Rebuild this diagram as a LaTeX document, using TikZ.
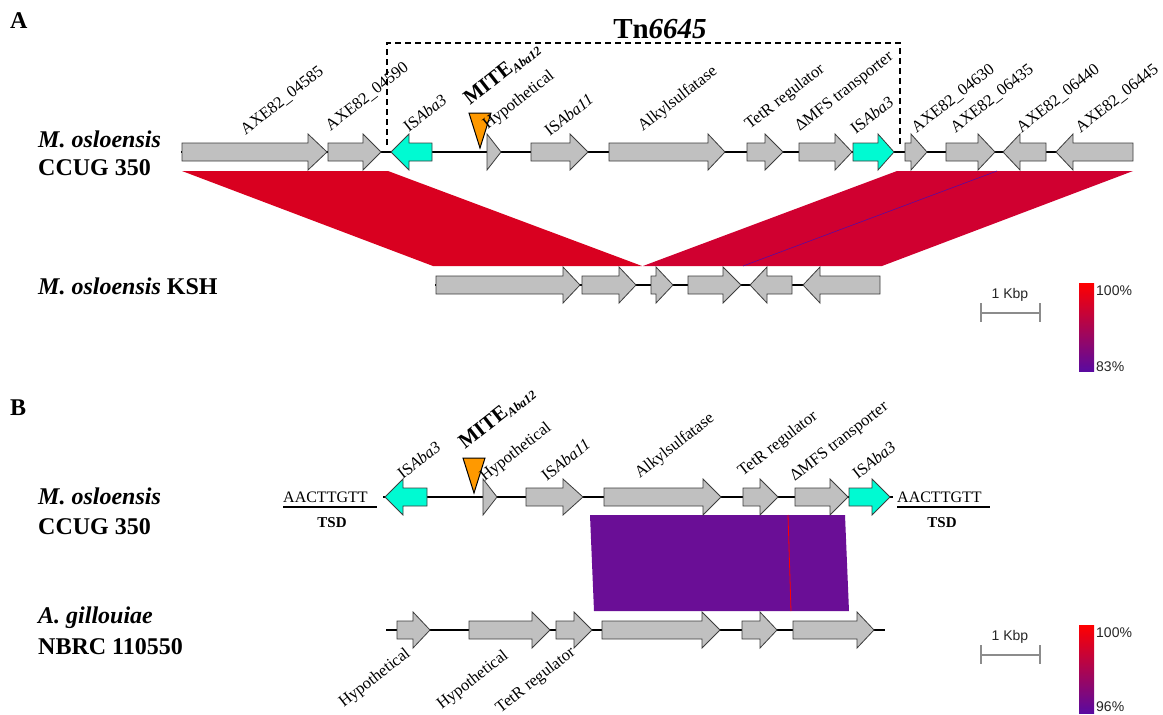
\documentclass[tikz,border=0pt]{standalone}
\usepackage{fontspec}
\setmainfont{Liberation Serif}
\newfontfamily\arialf{Liberation Sans}
\definecolor{genegray}{RGB}{192,192,192}
\definecolor{geneedge}{RGB}{60,60,60}
\definecolor{iscyan}{RGB}{0,250,210}
\definecolor{miteorange}{RGB}{255,153,0}
\definecolor{redA}{RGB}{217,0,32}
\definecolor{redB}{RGB}{208,0,48}
\definecolor{blkpurple}{RGB}{106,14,150}
\definecolor{barpurple}{RGB}{90,10,160}
\definecolor{scalegray}{RGB}{140,140,140}
\tikzset{
  gene/.style={fill=genegray, draw=geneedge, line width=0.8pt, line join=miter},
  isel/.style={fill=iscyan, draw=geneedge, line width=0.8pt, line join=miter},
  backbone/.style={line width=2.6pt, black},
  glabel/.style={rotate=38, anchor=south west, inner sep=0pt, font=\fontsize{16.5}{16.5}\selectfont},
  blabel/.style={rotate=38, anchor=north east, inner sep=0pt, font=\fontsize{16.5}{16.5}\selectfont},
  species/.style={anchor=base west, inner sep=0pt, font=\fontsize{24}{24}\selectfont\bfseries},
  panel/.style={anchor=base west, inner sep=0pt, font=\fontsize{24}{24}\selectfont\bfseries},
  mite/.style={fill=miteorange, draw=black, line width=1pt},
  sans/.style={inner sep=0pt, font=\fontsize{14}{14}\selectfont\arialf, text=black!85},
  scalebar/.style={draw=scalegray, line width=1.5pt},
  tsdtext/.style={anchor=base west, inner sep=0pt, font=\fontsize{16}{16}\selectfont},
  tsdlab/.style={anchor=base, inner sep=0pt, font=\fontsize{15}{15}\selectfont\bfseries},
}
% optional style, body end, head base, tip, centre y
\newcommand\garrow[5][gene]{\filldraw[#1] (#2,#5-9) -- (#3,#5-9) -- (#3,#5-18) -- (#4,#5) -- (#3,#5+18) -- (#3,#5+9) -- (#2,#5+9) -- cycle;}
\newcommand\mitelab{\textbf{\fontsize{21}{21}\selectfont MITE}\raisebox{-3pt}{\fontsize{12.5}{12.5}\selectfont\bfseries\itshape Aba12}}
\begin{document}
\begin{tikzpicture}[x=1pt,y=-1pt]
\useasboundingbox (0,0) rectangle (1163,715);
\fill[white] (0,0) rectangle (1163,715);

% ================= Panel A =================
\node[panel] (pA) at (10,28) {A};
\node[species] (sA1) at (38,147) {\itshape M. osloensis};
\node[species] (sA2) at (38,175) {CCUG 350};
\node[species] (sA3) at (38,294) {\itshape M. osloensis\upshape\ KSH};

% homology blocks
\fill[redA] (182,171) -- (388,171) -- (642,266) -- (433,266) -- cycle;
\fill[redB] (897,171) -- (1133,171) -- (882,266) -- (643,266) -- cycle;
\draw[barpurple, line width=0.6pt] (997,171) -- (743,266);

% Tn6645 box
\draw[dashed, line width=1.3pt, dash pattern=on 6pt off 4pt] (387,145) -- (387,43) -- (900,43) -- (900,145);
\node[anchor=base, inner sep=0pt, font=\fontsize{29}{29}\selectfont\bfseries] (tn) at (660,38) {Tn\textit{6645}};

% top row
\draw[backbone] (181,152) -- (1133,152);
\garrow{182}{308}{327}{152}
\garrow{328}{363}{381}{152}
\garrow[isel]{432}{409}{391}{152}
\garrow{487}{487}{501}{152}
\garrow{531}{570}{588}{152}
\garrow{609}{708}{725}{152}
\garrow{747}{765}{783}{152}
\garrow{799}{835}{852}{152}
\garrow[isel]{853}{878}{894}{152}
\garrow{905}{911}{927}{152}
\garrow{946}{978}{995}{152}
\garrow{1046}{1020}{1003}{152}
\garrow{1133}{1073}{1056}{152}
\filldraw[mite] (469,113) -- (491,113) -- (480,148) -- cycle;

\node[glabel] (a1) at (247,137) {AXE82\_04585};
\node[glabel] (a2) at (332,133) {AXE82\_04590};
\node[glabel] (a3) at (409,133) {IS\textit{Aba3}};
\node[glabel] (a4) at (472,108) {\mitelab};
\node[glabel] (a5) at (490,133) {Hypothetical};
\node[glabel] (a6) at (550,137) {IS\textit{Aba11}};
\node[glabel] (a7) at (645,135) {Alkylsulfatase};
\node[glabel] (a8) at (752,133) {TetR regulator};
\node[glabel] (a9) at (802,135) {ΔMFS transporter};
\node[glabel] (a10) at (856,135) {IS\textit{Aba3}};
\node[glabel] (a11) at (918,135) {AXE82\_04630};
\node[glabel] (a12) at (957,135) {AXE82\_06435};
\node[glabel] (a13) at (1023,135) {AXE82\_06440};
\node[glabel] (a14) at (1082,135) {AXE82\_06445};

% KSH row
\draw[backbone] (435,285) -- (880,285);
\garrow{436}{563}{580}{285}
\garrow{582}{619}{636}{285}
\garrow{651}{656}{673}{285}
\garrow{688}{723}{741}{285}
\garrow{792}{767}{750}{285}
\garrow{880}{820}{803}{285}

% scale + colour bar A
\node[sans] (kA) at (1010,295) {1 Kbp};
\draw[scalebar] (981,313) -- (1040,313);
\draw[scalebar] (981,303) -- (981,322);
\draw[scalebar] (1040,303) -- (1040,322);
\shade[top color=red, bottom color=barpurple] (1079,283) rectangle (1094,371);
\node[sans, anchor=west] (cA1) at (1096,291) {100\%};
\node[sans, anchor=west] (cA2) at (1096,367) {83\%};

% ================= Panel B =================
\node[panel] (pB) at (10,415) {B};
\node[species] (sB1) at (38,504) {\itshape M. osloensis};
\node[species] (sB2) at (38,534) {CCUG 350};
\node[species] (sB3) at (38,623) {\itshape A. gillouiae};
\node[species] (sB4) at (38,654) {NBRC 110550};

% homology block
\fill[blkpurple] (590,515) -- (845,515) -- (849,611) -- (594,611) -- cycle;
\draw[red, line width=0.8pt] (788,515) -- (791,611);

% top row
\draw[backbone] (383,497) -- (893,497);
\garrow[isel]{427}{403}{385}{497}
\garrow{483}{483}{497}{497}
\garrow{526}{563}{583}{497}
\garrow{604}{703}{721}{497}
\garrow{743}{760}{778}{497}
\garrow{795}{830}{848}{497}
\garrow[isel]{849}{872}{890}{497}
\filldraw[mite] (463,458) -- (485,458) -- (474,493) -- cycle;

\node[glabel] (b1) at (403,480) {IS\textit{Aba3}};
\node[glabel] (b2) at (467,452) {\mitelab};
\node[glabel] (b3) at (487,485) {Hypothetical};
\node[glabel] (b4) at (547,482) {IS\textit{Aba11}};
\node[glabel] (b5) at (642,482) {Alkylsulfatase};
\node[glabel] (b6) at (745,480) {TetR regulator};
\node[glabel] (b7) at (797,485) {ΔMFS transporter};
\node[glabel] (b8) at (858,480) {IS\textit{Aba3}};

% TSDs
\node[tsdtext] (t1) at (283,502) {AACTTGTT};
\draw[line width=2.5pt] (283,507) -- (377,507);
\node[tsdlab] (t2) at (332,527) {TSD};
\node[tsdtext] (t3) at (897,502) {AACTTGTT};
\draw[line width=2.5pt] (897,507) -- (990,507);
\node[tsdlab] (t4) at (942,527) {TSD};

% bottom row
\draw[backbone] (386,630) -- (885,630);
\garrow{397}{413}{430}{630}
\garrow{469}{532}{550}{630}
\garrow{556}{574}{592}{630}
\garrow{602}{702}{720}{630}
\garrow{742}{760}{777}{630}
\garrow{793}{857}{874}{630}

\node[blabel] (c1) at (404,646) {Hypothetical};
\node[blabel] (c2) at (502,648) {Hypothetical};
\node[blabel] (c3) at (569,645) {TetR regulator};

% scale + colour bar B
\node[sans] (kB) at (1010,637) {1 Kbp};
\draw[scalebar] (981,655) -- (1040,655);
\draw[scalebar] (981,645) -- (981,664);
\draw[scalebar] (1040,645) -- (1040,664);
\shade[top color=red, bottom color=barpurple] (1079,625) rectangle (1094,713);
\node[sans, anchor=west] (cB1) at (1096,633) {100\%};
\node[sans, anchor=west] (cB2) at (1096,707) {96\%};
\end{tikzpicture}
\end{document}
